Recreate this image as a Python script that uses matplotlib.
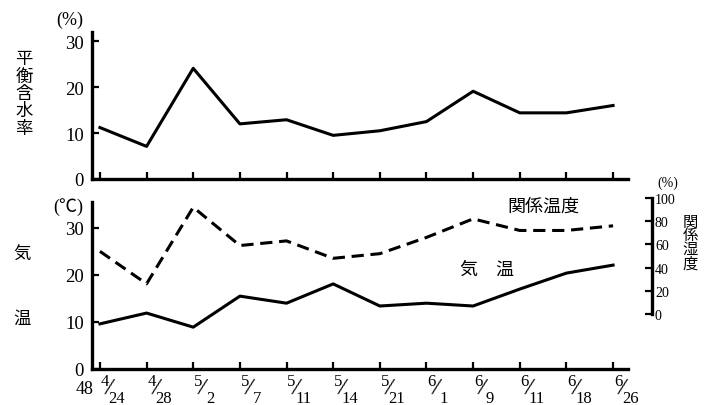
import matplotlib
matplotlib.use("Agg")
import matplotlib.pyplot as plt
from matplotlib.transforms import offset_copy
import numpy as np

plt.rcParams['font.family'] = ['Liberation Serif', 'Noto Sans CJK JP']

# data
months = ['4', '4', '5', '5', '5', '5', '5', '6', '6', '6', '6', '6']
days = ['24', '28', '2', '7', '11', '14', '21', '1', '9', '11', '18', '26']
moisture = [11.2, 7.1, 24.1, 12.0, 12.9, 9.5, 10.5, 12.5, 19.1, 14.4, 14.4, 16.0]
air_temp = [9.6, 11.9, 8.9, 15.5, 14.0, 18.1, 13.4, 14.0, 13.4, 17.0, 20.4, 22.1]
humidity = [54, 26, 92, 59, 63, 48, 52, 66, 82, 72, 72, 76]

W, H = 708, 406
fig = plt.figure(figsize=(W / 100, H / 100), dpi=100)

def fx(px):
    return px / W

def fy(py):
    return 1 - py / H

x = np.arange(len(days))
lw_axis = 2.4
lw_line = 2.2

ax1 = fig.add_axes([fx(92), fy(180), fx(628 - 92), (180 - 33) / H])
ax2 = fig.add_axes([fx(92), fy(370), fx(628 - 92), (370 - 197) / H])

for ax in (ax1, ax2):
    for s in ('top', 'right'):
        ax.spines[s].set_visible(False)
    for s in ('left', 'bottom'):
        ax.spines[s].set_linewidth(lw_axis)
    ax.set_xlim(-0.17, 11.32)
    ax.set_xticks(x)
    ax.set_xticklabels([])
    ax.tick_params(axis='both', direction='in', length=5, width=1.6)
    ax.tick_params(axis='y', labelsize=13.5, pad=6)
    ax.set_yticks([0, 10, 20, 30])
    ax.patch.set_alpha(0)

ax1.set_ylim(0, 32)
ax1.plot(x, moisture, color='black', lw=lw_line, clip_on=False)

ax2.set_ylim(0, 36.8)
ax2.spines['left'].set_bounds(0, 35.5)
ax2.plot(x, air_temp, color='black', lw=lw_line, clip_on=False)

ax3 = ax2.twinx()
ax3.set_ylim(-47.4, 101.7)
for s in ('top', 'left', 'bottom'):
    ax3.spines[s].set_visible(False)
ax3.spines['right'].set_position(('axes', 1.045))
ax3.spines['right'].set_bounds(0, 100)
ax3.spines['right'].set_linewidth(lw_axis)
ax3.set_yticks([0, 20, 40, 60, 80, 100])
ax3.tick_params(axis='y', direction='in', length=5, width=1.6, labelsize=10, pad=2)
ax3.plot(x, humidity, color='black', lw=lw_line, ls=(0, (4, 2.2)), clip_on=False)

# date labels under the lower panel
tr = ax2.get_xaxis_transform()
for i, (m, d) in enumerate(zip(months, days)):
    t_num = offset_copy(tr, fig=fig, x=5, y=-12, units='dots')
    t_sl = offset_copy(tr, fig=fig, x=9, y=-19, units='dots')
    t_den = offset_copy(tr, fig=fig, x=17, y=-29, units='dots')
    ax2.text(x[i], 0, m, transform=t_num, ha='center', va='center', fontsize=12)
    ax2.text(x[i], 0, '/', transform=t_sl, ha='center', va='center', fontsize=18,
             rotation=-14)
    ax2.text(x[i], 0, d, transform=t_den, ha='center', va='center', fontsize=12)
t48 = offset_copy(tr, fig=fig, x=-15, y=-20, units='dots')
ax2.text(x[0], 0, '48', transform=t48, ha='center', va='center', fontsize=13)

# labels
fig.text(fx(70), fy(20), '(%)', ha='center', va='center', fontsize=13)
fig.text(fx(24), fy(95), '平\n衡\n含\n水\n率', ha='center', va='center',
         fontsize=12.5, linespacing=1.12)
fig.text(fx(68), fy(207), '(℃)', ha='center', va='center', fontsize=13)
fig.text(fx(22), fy(256), '気', ha='center', va='center', fontsize=12.5)
fig.text(fx(22), fy(320), '温', ha='center', va='center', fontsize=12.5)
fig.text(fx(543), fy(207), '関係温度', ha='center', va='center', fontsize=13)
fig.text(fx(487), fy(270), '気　温', ha='center', va='center', fontsize=13)
fig.text(fx(668), fy(183), '(%)', ha='center', va='center', fontsize=10)
fig.text(fx(690), fy(244), '関\n係\n湿\n度', ha='center', va='center',
         fontsize=11, linespacing=1.0)

fig.savefig('out.png', dpi=100)
